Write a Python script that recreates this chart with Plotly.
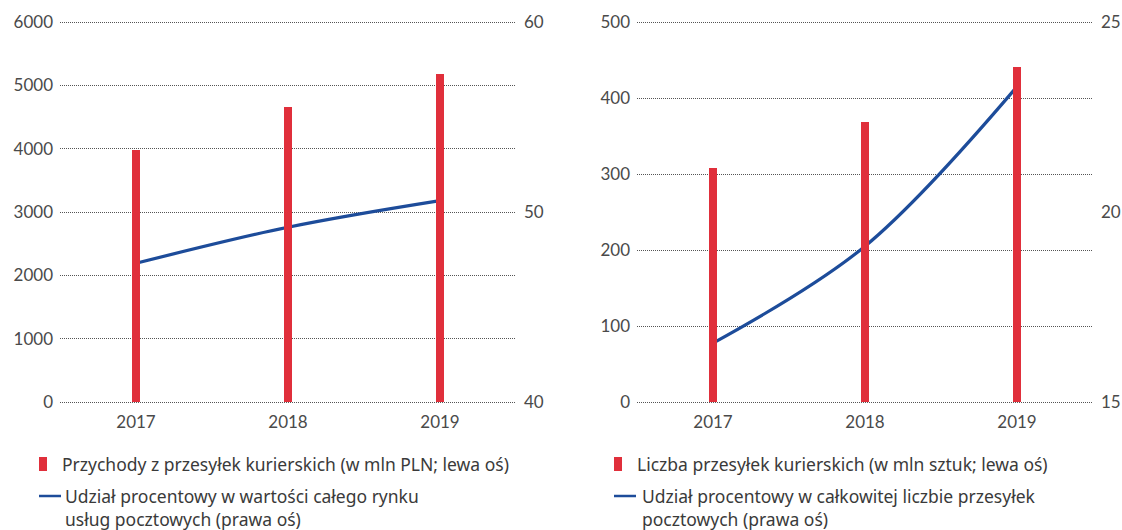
import plotly.graph_objects as go

years = ["2017", "2018", "2019"]
revenue = [3980, 4660, 5180]          # mln PLN, left axis
revenue_share = [47.3, 49.2, 50.6]    # %, right axis
volume = [308, 369, 441]              # mln sztuk, left axis
volume_share = [16.55, 19.1, 23.3]    # %, right axis

legend_left = ["Przychody z przesyłek kurierskich (w mln PLN; lewa oś)",
               "Udział procentowy w wartości całego rynku<br>usług pocztowych (prawa oś)"]
legend_right = ["Liczba przesyłek kurierskich (w mln sztuk; lewa oś)",
                "Udział procentowy w całkowitej liczbie przesyłek<br>pocztowych (prawa oś)"]

RED = "#E02F3B"
BLUE = "#1D4C9A"
TICK_FONT = dict(family="Lato", size=17, color="#4a4a4a")
LEG_FONT = dict(family="Noto Sans", size=17.5, color="#3a3a3a")

W, H = 1122, 530
def px(x):
    return x / W
def py(y):
    return 1 - y / H

PAD = 3  # px of padding so that the edge gridlines are drawn
TOP, BOT = 22, 402
SPAN = BOT - TOP

def padded(lo, hi):
    d = (hi - lo) * PAD / SPAN
    return [lo - d, hi + d]

fig = go.Figure()

# left panel
fig.add_trace(go.Scatter(x=years, y=revenue_share, mode="lines",
                         line=dict(color=BLUE, width=3.2, shape="spline"),
                         xaxis="x", yaxis="y", showlegend=False))
fig.add_trace(go.Bar(x=years, y=revenue, marker=dict(color=RED, line_width=0),
                     width=0.053, xaxis="x", yaxis="y2", showlegend=False))
# right panel
fig.add_trace(go.Scatter(x=years, y=volume_share, mode="lines",
                         line=dict(color=BLUE, width=3.2, shape="spline"),
                         xaxis="x2", yaxis="y3", showlegend=False))
fig.add_trace(go.Bar(x=years, y=volume, marker=dict(color=RED, line_width=0),
                     width=0.053, xaxis="x2", yaxis="y4", showlegend=False))

ydom = [py(BOT + PAD), py(TOP - PAD)]
xaxis_common = dict(type="category", range=[-0.5, 2.5], showgrid=False, zeroline=False,
                    showline=False, ticks="", tickfont=TICK_FONT, ticklabelstandoff=5,
                    automargin=False)
grid_axis = dict(showgrid=True, gridcolor="#555555", griddash="1px,1px", gridwidth=1,
                 zeroline=False, showline=False, ticks="", tickfont=TICK_FONT,
                 ticklabelstandoff=6, automargin=False)
right_axis = dict(showgrid=False, zeroline=False, showline=False, ticks="",
                  tickfont=TICK_FONT, ticklabelstandoff=7, automargin=False)

fig.update_layout(
    width=W, height=H,
    margin=dict(l=0, r=0, t=0, b=0),
    paper_bgcolor="white", plot_bgcolor="white",
    xaxis=dict(domain=[px(60), px(516)], anchor="y", **xaxis_common),
    xaxis2=dict(domain=[px(637), px(1093)], anchor="y3", **xaxis_common),
    yaxis=dict(domain=ydom, anchor="x", side="right", range=padded(40, 60),
               tickvals=[40, 50, 60], **right_axis),
    yaxis2=dict(overlaying="y", anchor="x", side="left", range=padded(0, 6000),
                tickvals=[0, 1000, 2000, 3000, 4000, 5000, 6000], **grid_axis),
    yaxis3=dict(domain=ydom, anchor="x2", side="right", range=padded(15, 25),
                tickvals=[15, 20, 25], **right_axis),
    yaxis4=dict(overlaying="y3", anchor="x2", side="left", range=padded(0, 500),
                tickvals=[0, 100, 200, 300, 400, 500], **grid_axis),
    bargap=0,
)

# legends (drawn as annotations + small shapes)
def legend_block(x0, texts, line_x1, text2_x):
    shapes = [
        dict(type="rect", xref="paper", yref="paper",
             x0=px(x0), x1=px(x0 + 8), y0=py(471), y1=py(457),
             fillcolor=RED, line_width=0),
        dict(type="line", xref="paper", yref="paper",
             x0=px(x0), x1=px(line_x1), y0=py(496), y1=py(496),
             line=dict(color=BLUE, width=2.5)),
    ]
    anns = [
        dict(text=texts[0], x=px(x0 + 21), y=py(464), xref="paper", yref="paper",
             xanchor="left", yanchor="middle", showarrow=False, font=LEG_FONT),
        dict(text=texts[1], x=px(text2_x), y=py(507.5), xref="paper", yref="paper",
             xanchor="left", yanchor="middle", align="left", showarrow=False,
             font=LEG_FONT),
    ]
    return shapes, anns

s1, a1 = legend_block(39, legend_left, 61, 63)
s2, a2 = legend_block(614, legend_right, 636, 640)
fig.update_layout(shapes=s1 + s2, annotations=a1 + a2)

fig.write_html("out.html")
